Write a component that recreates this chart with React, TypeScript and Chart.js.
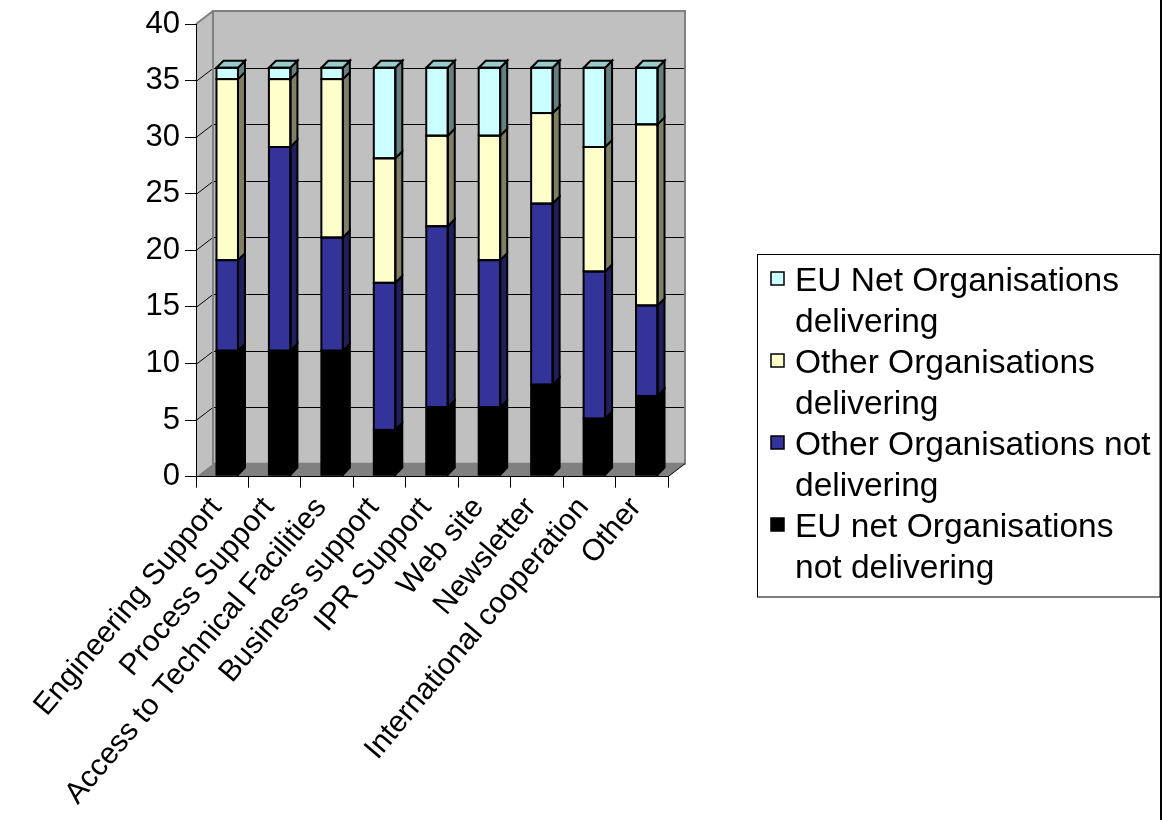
import React, { useEffect, useRef } from 'react';
import { Chart, registerables } from 'chart.js';

Chart.register(...registerables);

// ---- data ----
const categories = [
  'Engineering Support',
  'Process Support',
  'Access to Technical Facilities',
  'Business support',
  'IPR Support',
  'Web site',
  'Newsletter',
  'International cooperation',
  'Other',
];
const euNetNotDelivering = [11, 11, 11, 4, 6, 6, 8, 5, 7];
const otherNotDelivering = [8, 18, 10, 13, 16, 13, 16, 13, 8];
const otherDelivering = [16, 6, 14, 11, 8, 11, 8, 11, 16];
const euNetDelivering = [1, 1, 1, 8, 6, 6, 4, 7, 5];

const seriesLabels = [
  'EU net Organisations not delivering',
  'Other Organisations not delivering',
  'Other Organisations delivering',
  'EU Net Organisations delivering',
];
const yMin = 0;
const yMax = 40;
const yStep = 5;

// ---- styles ----
const frontColors = ['#000000', '#333399', '#ffffcc', '#ccffff'];
const sideColors = ['#000000', '#1f1f5c', '#7f7f66', '#668080'];
const topColors = ['#000000', '#22226a', '#b0b090', '#99cccc'];
const FONT = '"Liberation Sans", Arial, sans-serif';
const WALL = { x: 17, y: -13 };
const BAR_D = 7;
const SHIFT = { x: 5, y: -1.5 };

const threeD = {
  id: 'threeD',
  beforeDraw(chart: any) {
    const { ctx, chartArea: a, scales } = chart;
    const y = scales.y;
    const x0 = a.left, x1 = a.right, yT = a.top, yB = a.bottom;
    ctx.save();
    ctx.fillStyle = '#ffffff';
    ctx.fillRect(0, 0, chart.width, chart.height);
    // back wall
    ctx.fillStyle = '#c0c0c0';
    ctx.fillRect(x0 + WALL.x, yT + WALL.y, x1 - x0, yB - yT);
    // left wall
    ctx.beginPath();
    ctx.moveTo(x0, yT);
    ctx.lineTo(x0 + WALL.x, yT + WALL.y);
    ctx.lineTo(x0 + WALL.x, yB + WALL.y);
    ctx.lineTo(x0, yB);
    ctx.closePath();
    ctx.fill();
    // grid lines on walls
    ctx.strokeStyle = '#000';
    ctx.lineWidth = 1;
    y.ticks.forEach((t: any) => {
      if (t.value <= yMin || t.value >= yMax) return;
      const py = Math.round(y.getPixelForValue(t.value)) + 0.5;
      ctx.beginPath();
      ctx.moveTo(x0, py);
      ctx.lineTo(x0 + WALL.x, py + WALL.y);
      ctx.lineTo(x1 + WALL.x, py + WALL.y);
      ctx.stroke();
    });
    // wall outlines
    ctx.strokeStyle = '#808080';
    ctx.lineWidth = 2;
    ctx.strokeRect(x0 + WALL.x, yT + WALL.y, x1 - x0, yB - yT);
    ctx.beginPath();
    ctx.moveTo(x0, yT);
    ctx.lineTo(x0 + WALL.x, yT + WALL.y);
    ctx.stroke();
    // floor
    ctx.fillStyle = '#808080';
    ctx.beginPath();
    ctx.moveTo(x0, yB);
    ctx.lineTo(x0 + WALL.x, yB + WALL.y);
    ctx.lineTo(x1 + WALL.x, yB + WALL.y);
    ctx.lineTo(x1, yB);
    ctx.closePath();
    ctx.fill();
    ctx.strokeStyle = '#000';
    ctx.lineWidth = 1;
    ctx.beginPath();
    ctx.moveTo(x1, yB);
    ctx.lineTo(x1 + WALL.x, yB + WALL.y);
    ctx.stroke();
    ctx.restore();
  },
  beforeDatasetsDraw(chart: any) {
    chart.ctx.save();
    chart.ctx.translate(SHIFT.x, SHIFT.y);
  },
  afterDatasetsDraw(chart: any) {
    const ctx = chart.ctx;
    const n = chart.data.datasets.length;
    ctx.lineWidth = 2;
    ctx.strokeStyle = '#000';
    ctx.lineJoin = 'miter';
    for (let i = 0; i < n; i++) {
      const meta = chart.getDatasetMeta(i);
      meta.data.forEach((el: any, j: number) => {
        const v = chart.data.datasets[i].data[j];
        if (!v) return;
        const { x, y, base, width } = el.getProps(['x', 'y', 'base', 'width'], true);
        const l = x - width / 2, r = x + width / 2;
        const t = Math.min(y, base), b = Math.max(y, base);
        // side face
        ctx.fillStyle = sideColors[i];
        ctx.beginPath();
        ctx.moveTo(r, b);
        ctx.lineTo(r + BAR_D, b - BAR_D);
        ctx.lineTo(r + BAR_D, t - BAR_D);
        ctx.lineTo(r, t);
        ctx.closePath();
        ctx.fill();
        ctx.stroke();
        // top face for highest segment
        let isTop = true;
        for (let k = i + 1; k < n; k++) if (chart.data.datasets[k].data[j]) isTop = false;
        if (isTop) {
          ctx.fillStyle = topColors[i];
          ctx.beginPath();
          ctx.moveTo(l, t);
          ctx.lineTo(l + BAR_D, t - BAR_D);
          ctx.lineTo(r + BAR_D, t - BAR_D);
          ctx.lineTo(r, t);
          ctx.closePath();
          ctx.fill();
          ctx.stroke();
        }
        ctx.strokeRect(l, t, r - l, b - t);
      });
    }
    ctx.restore();
  },
  afterDraw(chart: any) {
    const ctx = chart.ctx;
    ctx.save();
    // legend
    const L = { left: 757.5, top: 254.5, right: 1160, bottom: 597 };
    ctx.strokeStyle = '#000';
    ctx.lineWidth = 1;
    ctx.strokeRect(L.left, L.top, L.right - L.left, L.bottom - L.top);
    ctx.font = `33.5px ${FONT}`;
    ctx.textBaseline = 'middle';
    ctx.textAlign = 'left';
    const textX = 795;
    const maxW = 362;
    const lineH = 41;
    let lineY = 282;
    const ds = chart.data.datasets;
    for (let i = ds.length - 1; i >= 0; i--) {
      const words = String(ds[i].label).split(' ');
      const lines: string[] = [];
      let cur = '';
      words.forEach((w: string) => {
        const test = cur ? cur + ' ' + w : w;
        if (cur && ctx.measureText(test).width > maxW) {
          lines.push(cur);
          cur = w;
        } else cur = test;
      });
      if (cur) lines.push(cur);
      ctx.fillStyle = frontColors[i];
      ctx.fillRect(771, lineY - 10, 13, 13);
      ctx.strokeStyle = '#000';
      ctx.lineWidth = 1.5;
      ctx.strokeRect(771, lineY - 10, 13, 13);
      ctx.fillStyle = '#000';
      lines.forEach((ln) => {
        ctx.fillText(ln, textX, lineY);
        lineY += lineH;
      });
    }
    // outer frame line on the right
    ctx.strokeStyle = '#000';
    ctx.lineWidth = 2;
    ctx.beginPath();
    ctx.moveTo(1161, 0);
    ctx.lineTo(1161, chart.height);
    ctx.stroke();
    ctx.restore();
  },
};

export default function App() {
  const ref = useRef<HTMLCanvasElement>(null);
  useEffect(() => {
    const series = [euNetNotDelivering, otherNotDelivering, otherDelivering, euNetDelivering];
    const chart = new Chart(ref.current as HTMLCanvasElement, {
      type: 'bar',
      data: {
        labels: categories,
        datasets: series.map((d, i) => ({
          label: seriesLabels[i],
          data: d,
          backgroundColor: frontColors[i],
          borderWidth: 0,
          categoryPercentage: 1,
          barPercentage: 0.41,
        })),
      },
      options: {
        responsive: false,
        animation: false,
        devicePixelRatio: 1,
        layout: { padding: { left: 0, top: 24, right: 497, bottom: 0 } },
        plugins: { legend: { display: false }, tooltip: { enabled: false } },
        scales: {
          x: {
            stacked: true,
            grid: { drawOnChartArea: false, drawTicks: true, tickLength: 11, color: '#000', offset: true },
            border: { display: true, color: '#000', width: 1 },
            ticks: {
              color: '#000',
              font: { family: FONT, size: 30 },
              maxRotation: 50,
              minRotation: 50,
              autoSkip: false,
              padding: 3,
              labelOffset: -6,
            },
            afterFit: (s: any) => {
              s.height = 820 - 476.7;
            },
          },
          y: {
            stacked: true,
            min: yMin,
            max: yMax,
            grid: { drawOnChartArea: false, drawTicks: true, tickLength: 11, color: '#000' },
            border: { display: true, color: '#000', width: 1 },
            ticks: {
              stepSize: yStep,
              color: '#000',
              font: { family: FONT, size: 31 },
              padding: 5,
            },
            afterFit: (s: any) => {
              s.width = 196;
            },
          },
        },
      },
      plugins: [threeD],
    });
    return () => chart.destroy();
  }, []);
  return (
    <div style={{ position: 'fixed', left: 0, top: 0, width: 1165, height: 820, background: '#fff' }}>
      <canvas ref={ref} width={1165} height={820} style={{ width: 1165, height: 820, display: 'block' }} />
    </div>
  );
}
